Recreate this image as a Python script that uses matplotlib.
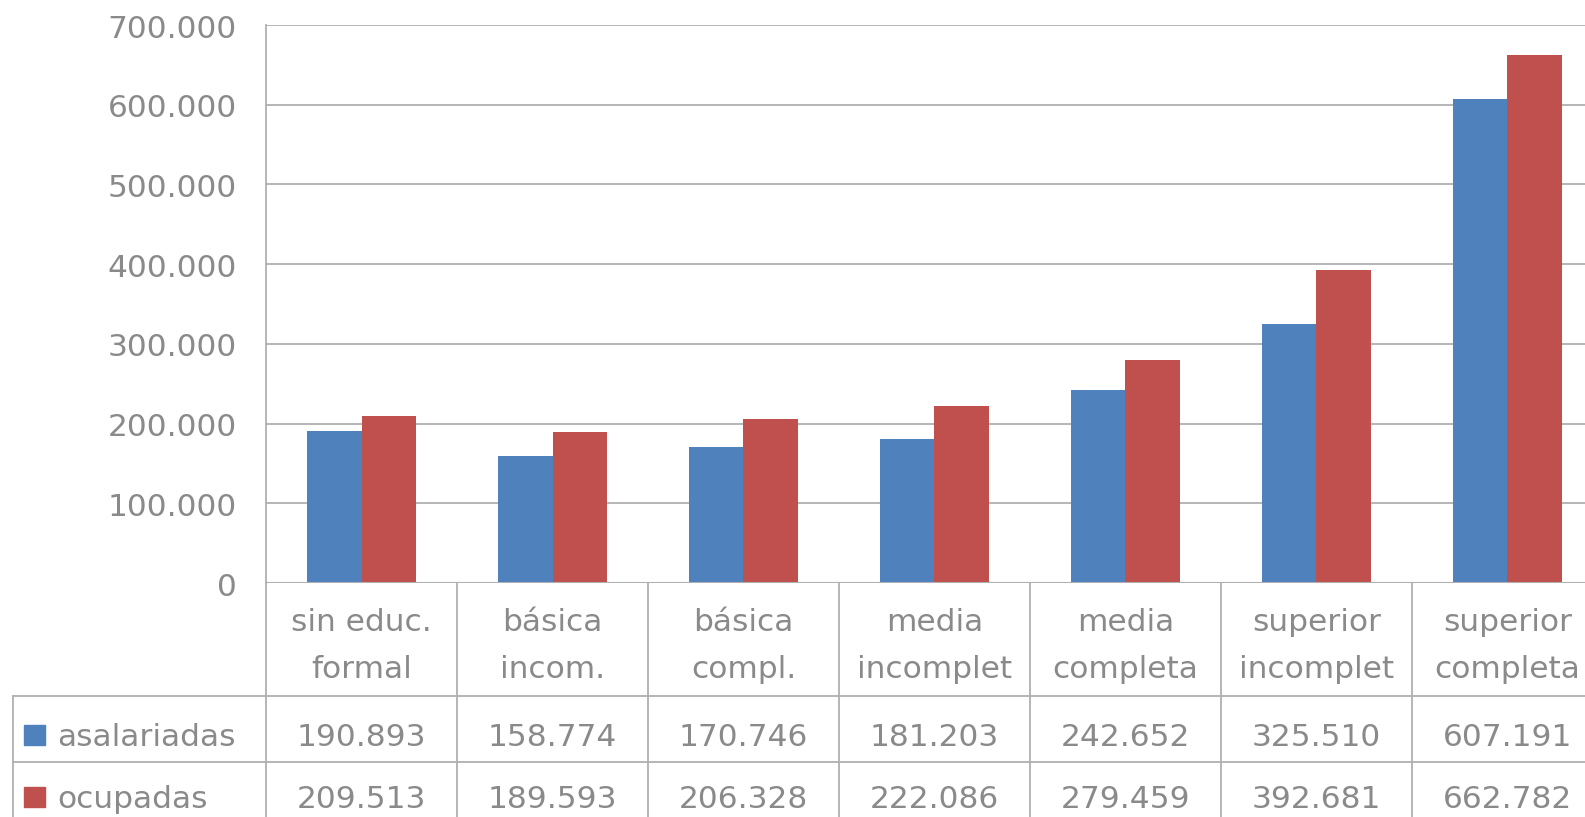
import matplotlib
matplotlib.use("Agg")
import matplotlib.pyplot as plt
from matplotlib.patches import Rectangle
from matplotlib.transforms import blended_transform_factory, ScaledTranslation
import numpy as np

categorias = [["sin educ.", "formal"], ["básica", "incom."], ["básica", "compl."],
              ["media", "incomplet"], ["media", "completa"],
              ["superior", "incomplet"], ["superior", "completa"]]
asalariadas = [190893, 158774, 170746, 181203, 242652, 325510, 607191]
ocupadas = [209513, 189593, 206328, 222086, 279459, 392681, 662782]
series = ["asalariadas", "ocupadas"]
colores = ["#4F81BD", "#C0504D"]
yticks = [0, 100000, 200000, 300000, 400000, 500000, 600000, 700000]

TXT = "#8a8a8a"
LINE = "#b0b0b0"
FS = 22.5
W, H = 1585, 817

def fmt(v):
    return f"{v:,}".replace(",", ".")

fig = plt.figure(figsize=(W / 100, H / 100), dpi=100)
# plot area runs past the right edge, like the cropped original
ax = fig.add_axes([266 / W, 1 - 583 / H, (1603 - 266) / W, (583 - 25) / H])

def yf(px):
    # pixel row in the image -> axes fraction
    return (583 - px) / 558

x = np.arange(len(categorias))
bw = 1 / 3.5
ax.bar(x - bw / 2, asalariadas, bw, color=colores[0], zorder=2)
ax.bar(x + bw / 2, ocupadas, bw, color=colores[1], zorder=2)

ax.set_xlim(-0.5, len(categorias) - 0.5)
ax.set_ylim(0, 700000)
ax.set_yticks(yticks)
ax.set_yticklabels([fmt(v) for v in yticks])
ax.set_xticks([])
ax.tick_params(axis="y", length=0, pad=21, labelsize=FS, labelcolor=TXT)
for lab in ax.get_yticklabels():
    lab.set_va("center")
    lab.set_transform(lab.get_transform() + ScaledTranslation(0, -0.04, fig.dpi_scale_trans))

ax.grid(axis="y", color=LINE, linewidth=1.3, zorder=0)
for s in ["top", "right", "bottom"]:
    ax.spines[s].set_visible(False)
ax.spines["left"].set_color(LINE)
ax.spines["left"].set_linewidth(1.3)
ax.axhline(0, color=LINE, linewidth=1.5, zorder=3)

# data table under the axis
tr = blended_transform_factory(ax.transData, ax.transAxes)
left_edge = (13 - 266) / 191 - 0.5
bot = yf(830)
for b in np.arange(-0.5, len(categorias), 1.0):
    ax.plot([b, b], [0, bot], transform=tr, color=LINE, lw=1.3, clip_on=False)
ax.plot([left_edge, left_edge], [yf(696), bot], transform=tr, color=LINE, lw=1.3, clip_on=False)
for yy in [yf(696), yf(762)]:
    ax.plot([left_edge, len(categorias) + 0.5], [yy, yy], transform=tr,
            color=LINE, lw=1.3, clip_on=False)

for i, (l1, l2) in enumerate(categorias):
    ax.text(i, yf(631), l1, transform=tr, ha="center", va="baseline",
            fontsize=FS, color=TXT, clip_on=False)
    ax.text(i, yf(678), l2, transform=tr, ha="center", va="baseline",
            fontsize=FS, color=TXT, clip_on=False)
    ax.text(i, yf(746), fmt(asalariadas[i]), transform=tr, ha="center",
            va="baseline", fontsize=FS, color=TXT, clip_on=False)
    ax.text(i, yf(808), fmt(ocupadas[i]), transform=tr, ha="center",
            va="baseline", fontsize=FS, color=TXT, clip_on=False)

# series keys
for name, col, top, base in zip(series, colores, [725, 787], [746, 808]):
    fig.patches.append(Rectangle((24 / W, 1 - (top + 20) / H), 21 / W, 20 / H,
                                 transform=fig.transFigure, color=col))
    fig.text(57 / W, 1 - base / H, name, ha="left", va="baseline",
             fontsize=FS, color=TXT)

fig.savefig("out.png", dpi=100)
